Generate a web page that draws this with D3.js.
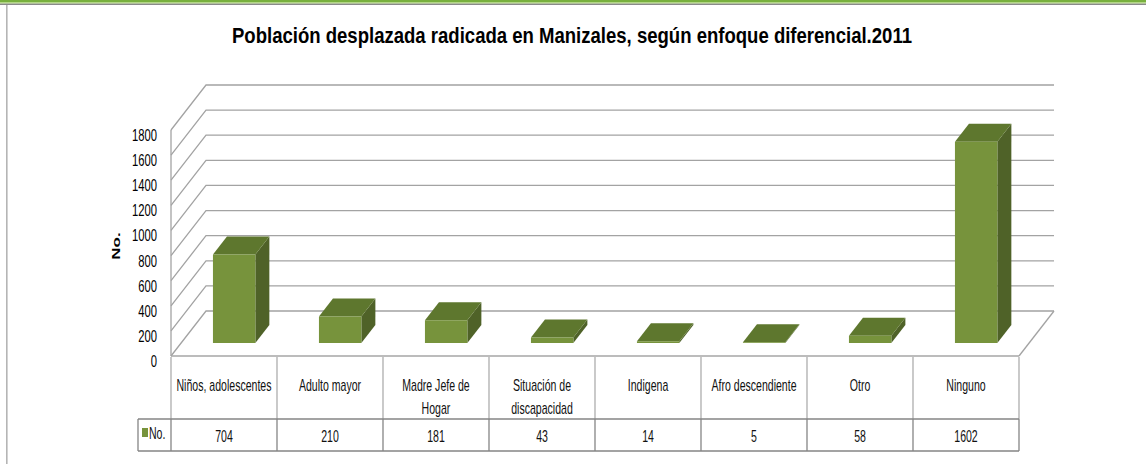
<!DOCTYPE html>
<html>
<head>
<meta charset="utf-8">
<script src="https://cdn.jsdelivr.net/npm/d3@7"></script>
<style>
  html, body { margin: 0; padding: 0; background: #fff; }
  svg { display: block; }
  text { font-family: "Liberation Sans", Arial, sans-serif; }
</style>
</head>
<body>
<svg id="chart" width="1146" height="464"></svg>
<script>
// ---- data ----
const title = "Población desplazada radicada en Manizales, según enfoque diferencial.2011";
const categories = ["Niños, adolescentes", "Adulto mayor", "Madre Jefe de\nHogar", "Situación de\ndiscapacidad", "Indigena", "Afro descendiente", "Otro", "Ninguno"];
const values = [704, 210, 181, 43, 14, 5, 58, 1602];
const seriesName = "No.";
const yTicks = [0, 200, 400, 600, 800, 1000, 1200, 1400, 1600, 1800];
const yTitle = "No.";

// ---- layout ----
const svg = d3.select("#chart");
const W = 1146, H = 464;
const frontLeft = 171, frontRight = 1019;
const frontBottom = 356, frontTop = 130;
const depthDx = 35, depthDy = -45;
const barDepth0 = 0.29, barDepth1 = 0.69;
const SX = 0.66; // horizontal condensing of text

const x = d3.scaleBand().domain(categories).range([frontLeft, frontRight]).paddingInner(0.6).paddingOuter(0.3);
const y = d3.scaleLinear().domain([0, 1800]).range([frontBottom, frontTop]);
const proj = (px, v, d) => [px + d * depthDx, y(v) + d * depthDy];

function ctext(parent, px, py, str, size, anchor, color) {
  return parent.append("text")
    .attr("transform", `translate(${px},${py}) scale(${SX},1)`)
    .attr("text-anchor", anchor || "middle").attr("dy", "0.35em")
    .attr("font-size", size).attr("fill", color || "#111").text(str);
}

// frame
svg.append("rect").attr("x", 0).attr("y", 0).attr("width", W).attr("height", 2.2).attr("fill", "#78b03e");
svg.append("rect").attr("x", 0).attr("y", 2.2).attr("width", W).attr("height", 1.4).attr("fill", "#a9d373");
svg.append("rect").attr("x", 0).attr("y", 3.6).attr("width", W).attr("height", 1.4).attr("fill", "#8a8a8a");
svg.append("rect").attr("x", 6).attr("y", 5).attr("width", 1.6).attr("height", H).attr("fill", "#b5b5b5");

// title
svg.append("text").attr("x", 572).attr("y", 43).attr("text-anchor", "middle")
  .attr("font-size", 22).attr("font-weight", "bold").attr("fill", "#000")
  .attr("textLength", 680).attr("lengthAdjust", "spacingAndGlyphs").text(title);

// gridlines: left wall diagonals + back wall
const grid = svg.append("g").attr("stroke", "#a3a3a3").attr("stroke-width", 1.3).attr("fill", "none");
yTicks.forEach(v => {
  const a = proj(frontLeft, v, 0), b = proj(frontLeft, v, 1), c = proj(frontRight, v, 1);
  grid.append("path").attr("d", d3.line()([a, b, c]));
});
grid.append("line").attr("x1", frontLeft).attr("x2", frontLeft).attr("y1", y(1800)).attr("y2", y(0));
{
  const a = proj(frontRight, 0, 0), b = proj(frontRight, 0, 1);
  grid.append("line").attr("x1", a[0]).attr("y1", a[1]).attr("x2", b[0]).attr("y2", b[1]);
}

// y tick labels
const tickG = svg.append("g");
yTicks.forEach(v => ctext(tickG, 157, y(v) + 5, v, 17, "end", "#000"));

// y axis title
svg.append("text").attr("transform", "translate(116,246) rotate(-90) scale(1,0.67)")
  .attr("text-anchor", "middle").attr("dy", "0.35em")
  .attr("font-size", 17).attr("font-weight", "bold").attr("fill", "#000").text(yTitle);

// bars
const bars = svg.append("g");
categories.forEach((c, i) => {
  const v = values[i];
  const x0 = x(c), x1 = x(c) + x.bandwidth();
  const f = [proj(x0, v, barDepth0), proj(x1, v, barDepth0), proj(x1, 0, barDepth0), proj(x0, 0, barDepth0)];
  const top = [proj(x0, v, barDepth0), proj(x1, v, barDepth0), proj(x1, v, barDepth1), proj(x0, v, barDepth1)];
  const side = [proj(x1, v, barDepth0), proj(x1, v, barDepth1), proj(x1, 0, barDepth1), proj(x1, 0, barDepth0)];
  const g = bars.append("g");
  g.append("polygon").attr("points", side.join(" ")).attr("fill", "#4f6228");
  g.append("polygon").attr("points", top.join(" ")).attr("fill", "#5e772e");
  g.append("polygon").attr("points", f.join(" ")).attr("fill", "#77933c");
});

// data table
const tableTop = frontBottom + 1, rowMid = 419, tableBottom = 451, legendLeft = 138;
const tbl = svg.append("g");
const bounds = categories.map(c => x(c) - x.step() * x.paddingInner() / 2);
bounds.push(frontRight);
tbl.selectAll("line.hv").data(bounds).join("line")
  .attr("x1", d => d).attr("x2", d => d).attr("y1", tableTop).attr("y2", rowMid)
  .attr("stroke", "#a6a6a6").attr("stroke-width", 1.2);
tbl.selectAll("line.vv").data([legendLeft].concat(bounds)).join("line")
  .attr("x1", d => d).attr("x2", d => d).attr("y1", rowMid).attr("y2", tableBottom)
  .attr("stroke", "#858585").attr("stroke-width", 1.3);
[rowMid, tableBottom].forEach(yy => tbl.append("line").attr("x1", legendLeft).attr("x2", frontRight)
  .attr("y1", yy).attr("y2", yy).attr("stroke", "#858585").attr("stroke-width", 1.3));
tbl.append("line").attr("x1", frontLeft).attr("x2", frontRight).attr("y1", frontBottom).attr("y2", frontBottom)
  .attr("stroke", "#a6a6a6").attr("stroke-width", 1.3);

// header labels
categories.forEach(c => {
  const cx = x(c) + x.bandwidth() / 2;
  c.split("\n").forEach((ln, k) => ctext(tbl, cx, 385 + k * 23, ln, 16));
});
// value labels
values.forEach((v, i) => ctext(tbl, x(categories[i]) + x.bandwidth() / 2, 436, v, 16));
// legend key
tbl.append("rect").attr("x", 142).attr("y", 428).attr("width", 6).attr("height", 9).attr("fill", "#77933c");
ctext(tbl, 149, 433, seriesName, 16, "start");
</script>
</body>
</html>
